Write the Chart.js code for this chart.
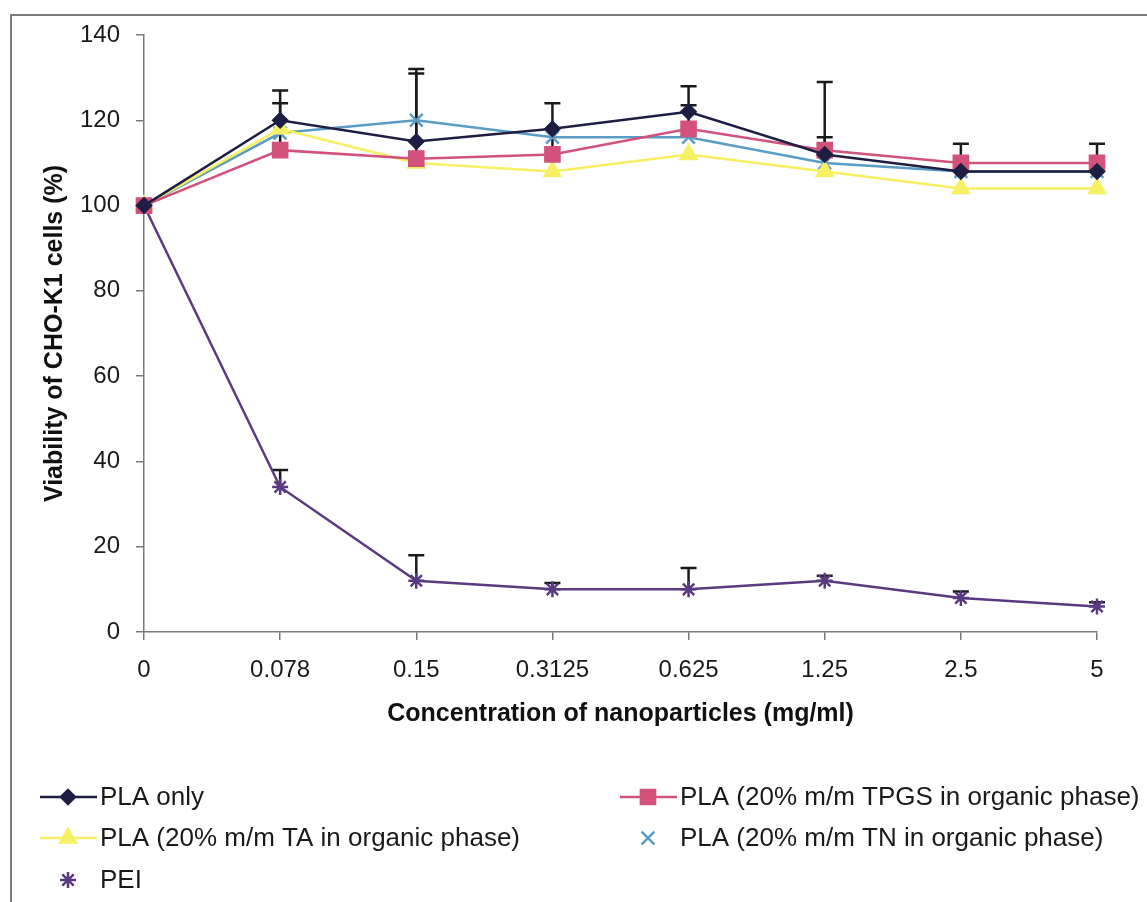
<!DOCTYPE html>
<html>
<head>
<meta charset="utf-8">
<script src="https://cdn.jsdelivr.net/npm/chart.js@4"></script>
<style>
    body { margin: 0; background: #fff; overflow: hidden; }
    .wrap { position: relative; width: 1147px; height: 902px; overflow: hidden; }
    .frame { position: absolute; left: 10px; top: 14px; width: 1200px; height: 1000px; border: 2px solid #7c7c7c; }
    canvas { position: absolute; left: 0; top: 0; }
</style>
</head>
<body>
<div class="wrap">
    <div class="frame"></div>
    <canvas id="viabilityChart" width="1147" height="902"></canvas>
</div>
<script>
// concentrations (mg/ml)
const categories = ["0", "0.078", "0.15", "0.3125", "0.625", "1.25", "2.5", "5"];

// viability (%)
const plaOnly = [100, 120, 115, 118, 122, 112, 108, 108];
const plaTpgs = [100, 113, 111, 112, 118, 113, 110, 110];
const plaTa = [100, 118, 110, 108, 112, 108, 104, 104];
const plaTn = [100, 117, 120, 116, 116, 110, 108, 108];
const pei = [100, 34, 12, 10, 10, 12, 8, 6];

// upper error bars (SD)
const plaOnlySd = [0, 7, 17, 0, 6, 4, 0, 6.5];
const plaTpgsSd = [0, 11, 20, 12, 5.5, 16, 4.5, 1];
const peiSd = [0, 4, 6, 1.5, 5, 1.2, 1.5, 1];

const yMin = 0;
const yMax = 140;
const yStep = 20;

const labelFont = "'Liberation Sans', Arial, sans-serif";

const series = [
    { label: "PLA only", data: plaOnly, sd: plaOnlySd, color: "#1e1e44", style: "rectRot", radius: 7, legendLine: true },
    { label: "PLA (20% m/m TPGS in organic phase)", data: plaTpgs, sd: plaTpgsSd, color: "#d2527c", style: "rect", radius: 10, legendLine: true },
    { label: "PLA (20% m/m TA in organic phase)", data: plaTa, sd: null, color: "#f6f062", style: "triangle", radius: 9, legendLine: true },
    { label: "PLA (20% m/m TN in organic phase)", data: plaTn, sd: null, color: "#5a9cc6", style: "crossRot", radius: 9, legendLine: false },
    { label: "PEI", data: pei, sd: peiSd, color: "#5a3a80", style: "star", radius: 8, legendLine: false }
];

// where each legend entry sits (row / column of the Excel style legend)
const legendSlots = [
    { x: 40, y: 797 },
    { x: 620, y: 797 },
    { x: 40, y: 838 },
    { x: 620, y: 838 },
    { x: 40, y: 880 }
];

const errorBarPlugin = {
    id: "errorBars",
    beforeDatasetsDraw(chart) {
        const ctx = chart.ctx;
        const xScale = chart.scales.x;
        const yScale = chart.scales.y;
        ctx.save();
        ctx.strokeStyle = "#1a1a1a";
        ctx.lineWidth = 2.5;
        series.forEach((s) => {
            if (!s.sd) return;
            s.data.forEach((v, i) => {
                const sd = s.sd[i];
                if (!sd) return;
                const x = xScale.getPixelForValue(i);
                const y0 = yScale.getPixelForValue(v);
                const y1 = yScale.getPixelForValue(v + sd);
                ctx.beginPath();
                ctx.moveTo(x, y0);
                ctx.lineTo(x, y1);
                ctx.moveTo(x - 8, y1);
                ctx.lineTo(x + 8, y1);
                ctx.stroke();
            });
        });
        ctx.restore();
    }
};

const legendPlugin = {
    id: "excelLegend",
    afterDraw(chart) {
        const ctx = chart.ctx;
        ctx.save();
        chart.data.datasets.forEach((ds, i) => {
            const slot = legendSlots[i];
            const s = series[i];
            const cx = slot.x + 28;
            if (s.legendLine) {
                ctx.strokeStyle = ds.borderColor;
                ctx.lineWidth = 2.5;
                ctx.beginPath();
                ctx.moveTo(slot.x, slot.y);
                ctx.lineTo(slot.x + 57, slot.y);
                ctx.stroke();
            }
            ctx.fillStyle = ds.pointBackgroundColor;
            ctx.strokeStyle = ds.pointBorderColor;
            ctx.lineWidth = ds.pointBorderWidth;
            Chart.helpers.drawPoint(ctx, {
                pointStyle: ds.pointStyle,
                radius: ds.pointRadius,
                rotation: 0,
                borderWidth: ds.pointBorderWidth
            }, cx, slot.y);

            ctx.fillStyle = "#1a1a1a";
            ctx.font = "26px " + labelFont;
            ctx.textBaseline = "middle";
            ctx.textAlign = "left";
            ctx.fillText(ds.label, slot.x + 60, slot.y + 1);
        });
        ctx.restore();
    }
};

const ctx = document.getElementById("viabilityChart").getContext("2d");

new Chart(ctx, {
    type: "line",
    data: {
        labels: categories,
        datasets: series.map((s) => ({
            label: s.label,
            data: s.data,
            borderColor: s.color,
            backgroundColor: s.color,
            borderWidth: 2.5,
            pointStyle: s.style,
            pointRadius: s.radius,
            pointBackgroundColor: s.color,
            pointBorderColor: s.color,
            pointBorderWidth: 2.5,
            tension: 0,
            fill: false
        }))
    },
    options: {
        responsive: false,
        animation: false,
        layout: {
            padding: { left: 0, right: 50, top: 35, bottom: 170 }
        },
        plugins: {
            legend: { display: false },
            tooltip: { enabled: false },
            title: { display: false }
        },
        scales: {
            x: {
                type: "category",
                offset: false,
                grid: { drawOnChartArea: false, drawTicks: true, tickLength: 8, color: "#7a7a7a", lineWidth: 1.5 },
                border: { color: "#7a7a7a", width: 1.5 },
                ticks: {
                    color: "#1a1a1a",
                    font: { family: labelFont, size: 24 },
                    padding: 16,
                    maxRotation: 0,
                    autoSkip: false
                },
                title: {
                    display: true,
                    text: "Concentration of nanoparticles (mg/ml)",
                    color: "#111",
                    font: { family: labelFont, size: 25, weight: "bold" },
                    padding: { top: 0, bottom: 3 }
                },
                afterFit: (scale) => { scale.height = 100; }
            },
            y: {
                min: yMin,
                max: yMax,
                grid: { drawOnChartArea: false, drawTicks: true, tickLength: 8, color: "#7a7a7a", lineWidth: 1.5 },
                border: { color: "#7a7a7a", width: 1.5 },
                ticks: {
                    stepSize: yStep,
                    color: "#1a1a1a",
                    font: { family: labelFont, size: 24 },
                    padding: 16
                },
                title: {
                    display: true,
                    text: "Viability of CHO-K1 cells (%)",
                    color: "#111",
                    font: { family: labelFont, size: 25, weight: "bold" },
                    padding: { top: 40, bottom: 0 }
                },
                afterFit: (scale) => { scale.width = 144; }
            }
        }
    },
    plugins: [errorBarPlugin, legendPlugin]
});
</script>
</body>
</html>
